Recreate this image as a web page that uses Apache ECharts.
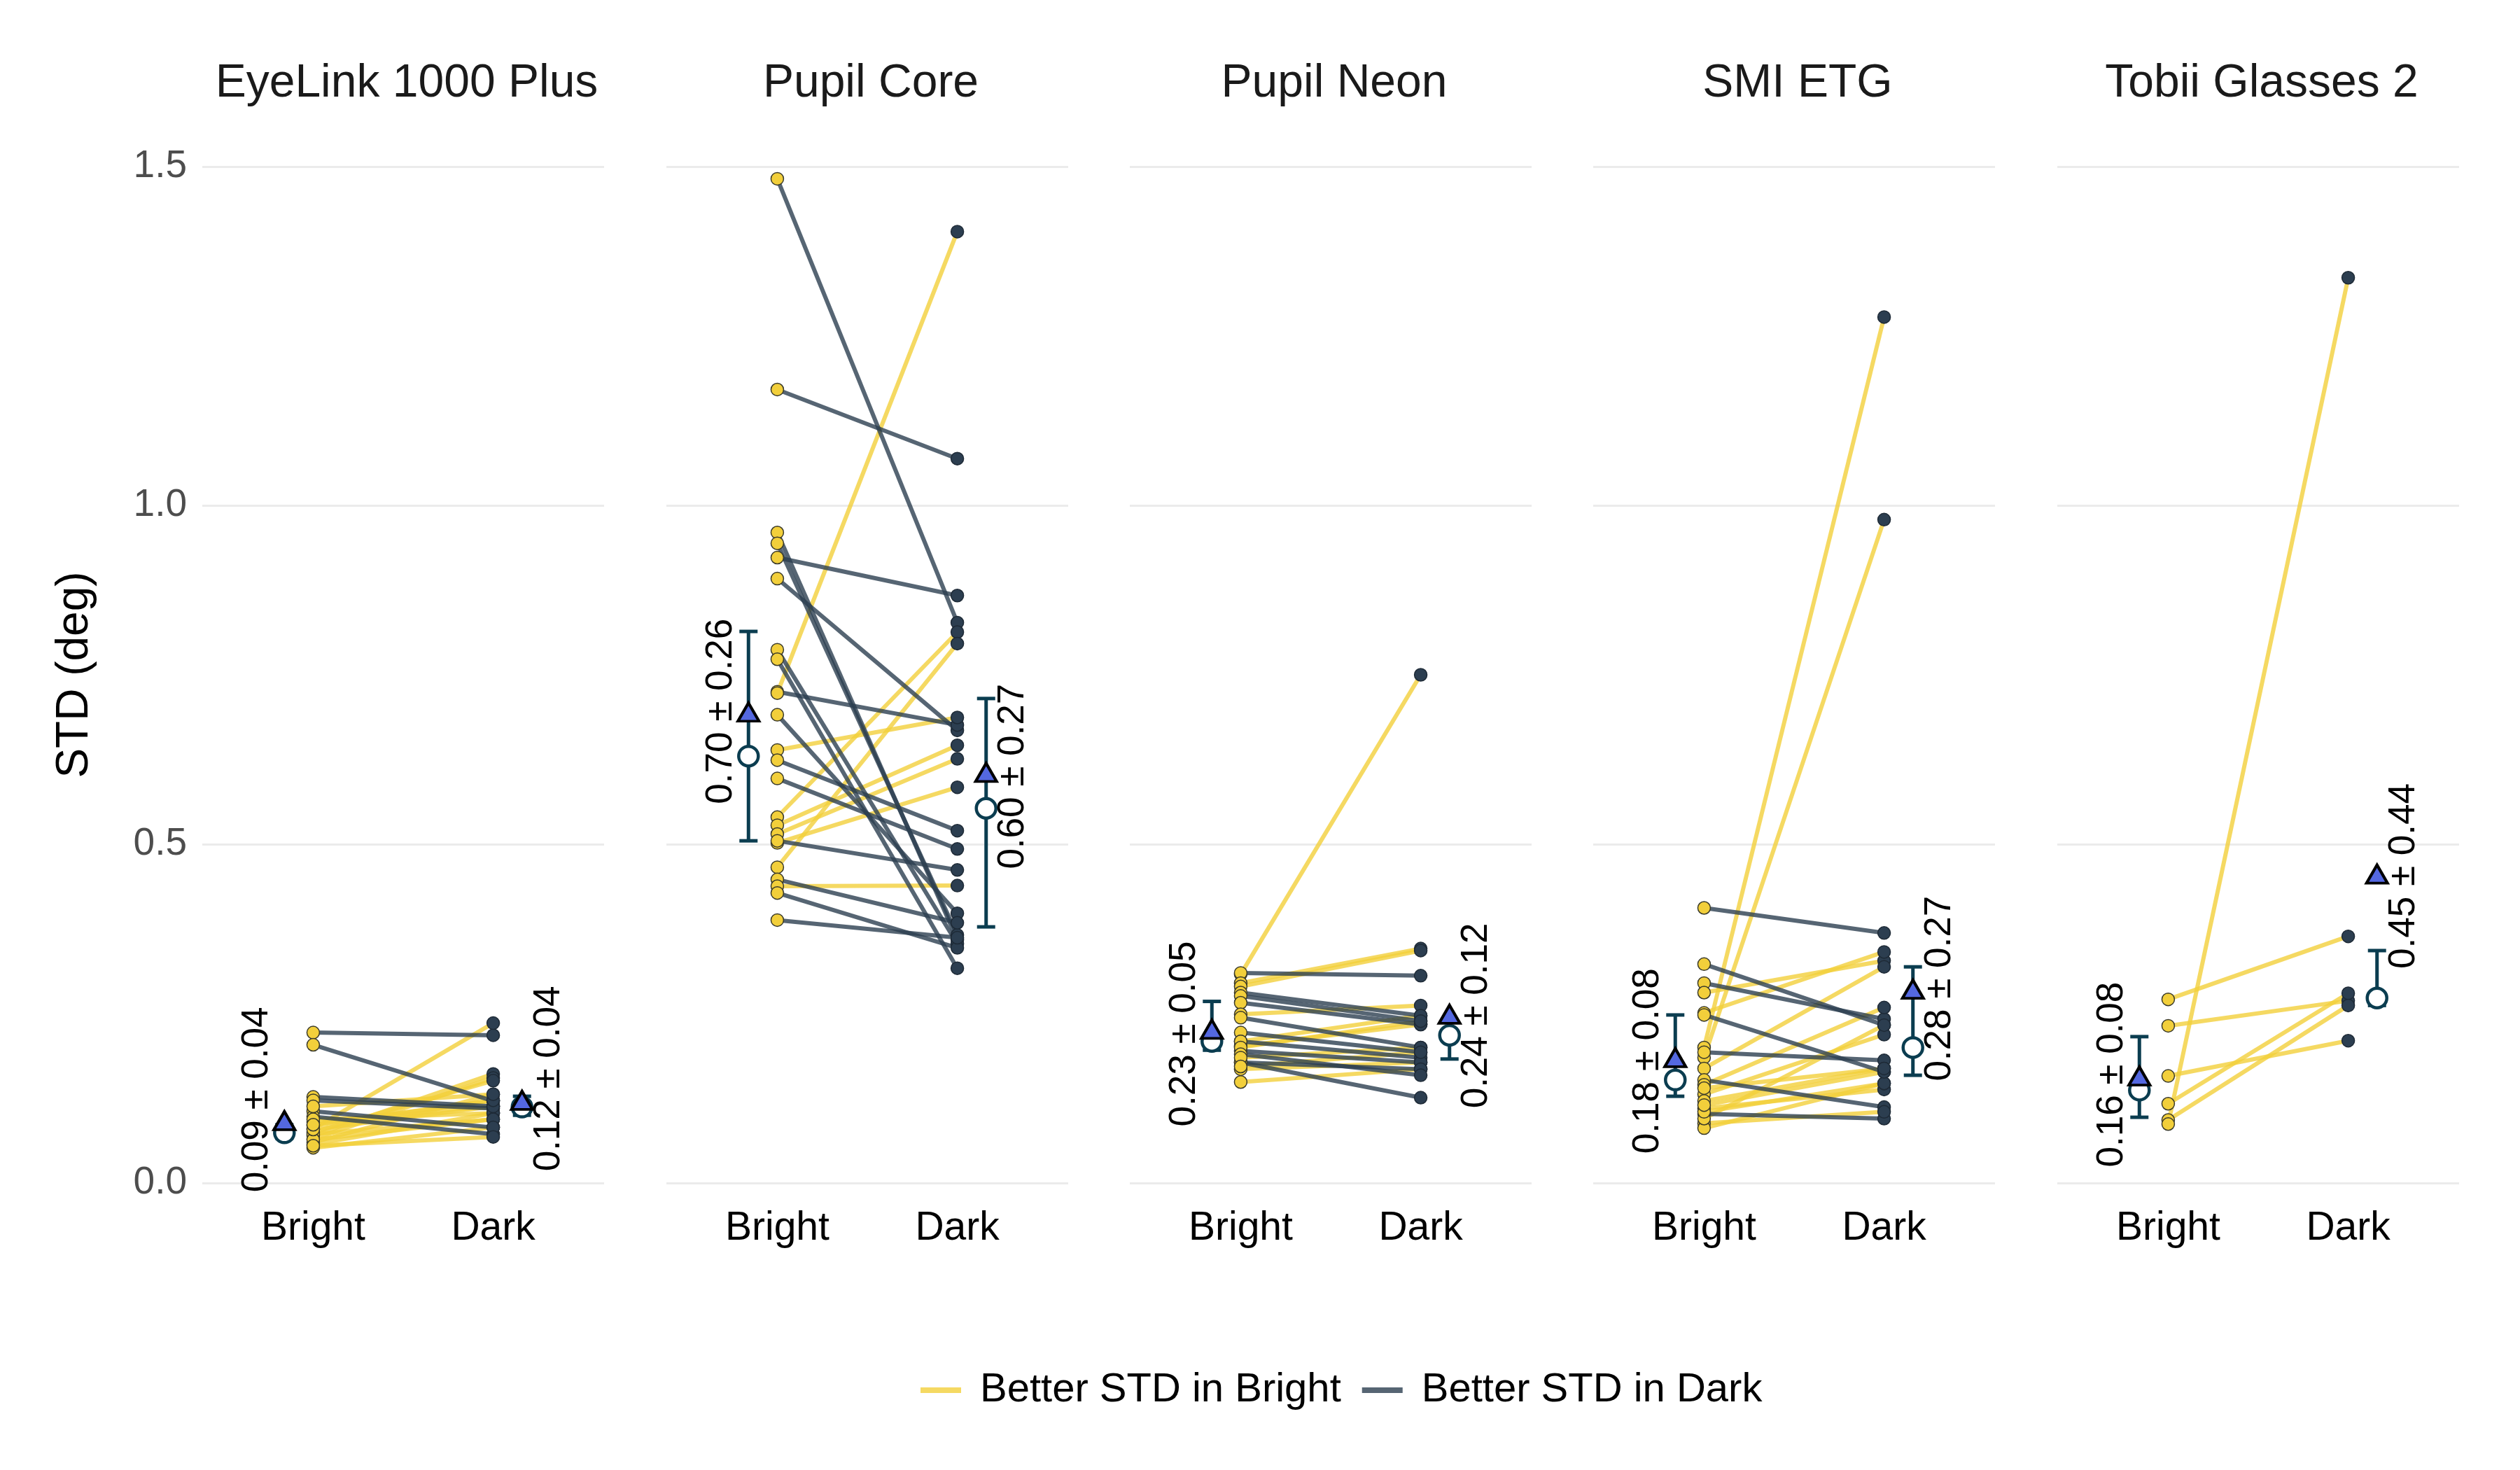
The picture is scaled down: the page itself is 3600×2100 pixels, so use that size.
<!DOCTYPE html>
<html>
<head>
<meta charset="utf-8">
<script src="https://cdn.jsdelivr.net/npm/echarts@6/dist/echarts.min.js"></script>
<style>
  html, body { margin: 0; padding: 0; background: #fff; }
  #chart { width: 3600px; height: 2100px; }
</style>
</head>
<body>
<div id="chart"></div>
<script>
// panels and conditions
var devices = ['EyeLink 1000 Plus', 'Pupil Core', 'Pupil Neon', 'SMI ETG', 'Tobii Glasses 2'];
var conditions = ['Bright', 'Dark'];
var seriesNames = ['Better STD in Bright', 'Better STD in Dark'];

// per participant STD (deg), same index = same participant
var eyelinkBright = [0.222, 0.204, 0.127, 0.122, 0.106, 0.098, 0.080, 0.070, 0.065, 0.075, 0.060,
                     0.085, 0.090, 0.057, 0.094, 0.072, 0.064, 0.052, 0.055, 0.079, 0.086, 0.113];
var eyelinkDark   = [0.218, 0.121, 0.113, 0.110, 0.082, 0.072, 0.236, 0.161, 0.155, 0.151, 0.131,
                     0.122, 0.113, 0.103, 0.103, 0.094, 0.094, 0.082, 0.068, 0.113, 0.122, 0.131];

var coreBright = [1.482, 1.171, 0.960, 0.944, 0.923, 0.892, 0.787, 0.773, 0.725, 0.723, 0.691, 0.639,
                  0.624, 0.597, 0.540, 0.528, 0.515, 0.502, 0.505, 0.466, 0.448, 0.438, 0.428, 0.388];
var coreDark   = [0.827, 1.069, 0.359, 0.366, 0.867, 0.668, 0.353, 0.317, 0.676, 1.404, 0.398, 0.687,
                  0.520, 0.493, 0.813, 0.646, 0.626, 0.584, 0.462, 0.796, 0.384, 0.439, 0.347, 0.362];

var neonBright = [0.308, 0.310, 0.295, 0.290, 0.281, 0.276, 0.266, 0.249, 0.244, 0.222, 0.209,
                  0.202, 0.209, 0.195, 0.200, 0.178, 0.168, 0.178, 0.149, 0.190, 0.185, 0.172];
var neonDark   = [0.750, 0.306, 0.346, 0.343, 0.247, 0.239, 0.234, 0.262, 0.200, 0.193, 0.247,
                  0.234, 0.185, 0.178, 0.239, 0.168, 0.178, 0.126, 0.168, 0.159, 0.200, 0.193];

var smiBright = [0.406, 0.323, 0.295, 0.281, 0.251, 0.248, 0.200, 0.185, 0.193, 0.169, 0.152,
                 0.145, 0.131, 0.121, 0.110, 0.102, 0.088, 0.081, 0.095, 0.105, 0.115, 0.140];
var smiDark   = [0.369, 0.233, 0.242, 0.328, 0.341, 0.164, 1.278, 0.979, 0.181, 0.319, 0.112,
                 0.259, 0.219, 0.169, 0.138, 0.095, 0.105, 0.147, 0.233, 0.147, 0.164, 0.169];

var tobiiBright = [0.271, 0.232, 0.158, 0.117, 0.093, 0.087];
var tobiiDark   = [0.364, 0.269, 0.210, 0.280, 0.262, 1.336];

var brightSets = [eyelinkBright, coreBright, neonBright, smiBright, tobiiBright];
var darkSets   = [eyelinkDark, coreDark, neonDark, smiDark, tobiiDark];

// summary markers
var meanBright   = [0.092, 0.695, 0.227, 0.185, 0.158];
var meanDark     = [0.122, 0.606, 0.249, 0.286, 0.456];
var medianBright = [0.074, 0.630, 0.209, 0.152, 0.137];
var medianDark   = [0.112, 0.553, 0.218, 0.200, 0.273];
var q1Bright = [0.066, 0.505, 0.196, 0.128, 0.097];
var q3Bright = [0.086, 0.814, 0.268, 0.248, 0.216];
var q1Dark   = [0.100, 0.378, 0.183, 0.159, 0.262];
var q3Dark   = [0.128, 0.715, 0.240, 0.319, 0.343];

// annotation text
var labelMeanBright = [0.09, 0.70, 0.23, 0.18, 0.16];
var labelSdBright   = [0.04, 0.26, 0.05, 0.08, 0.08];
var labelMeanDark   = [0.12, 0.60, 0.24, 0.28, 0.45];
var labelSdDark     = [0.04, 0.27, 0.12, 0.27, 0.44];
var labelYBright    = [0.123, 0.696, 0.220, 0.180, 0.160];
var labelYDark      = [0.154, 0.600, 0.247, 0.287, 0.453];

var FONT = 'Liberation Sans, Arial, Helvetica, sans-serif';
var YELLOW = '#f2cf3b';
var NAVY = '#2c3e50';
var TEAL = '#0b3d50';
var BLUE = '#5468e0';

var panelCenters = [576, 1239, 1901, 2563, 3226];
var panelWidth = 574;
var summaryOffset = 0.16;
var labelOffset = 0.31;

var myChart = echarts.init(document.getElementById('chart'));

var grids = [], xAxes = [], yAxes = [], titles = [], series = [];

function pairLines(name, color, idx, pairs) {
  return {
    name: name,
    type: 'custom',
    xAxisIndex: idx, yAxisIndex: idx,
    z: 2,
    itemStyle: { color: color },
    data: pairs,
    renderItem: function (params, api) {
      var p0 = api.coord([0, api.value(0)]);
      var p1 = api.coord([1, api.value(1)]);
      return {
        type: 'line',
        shape: { x1: p0[0], y1: p0[1], x2: p1[0], y2: p1[1] },
        style: { stroke: color, lineWidth: 6, opacity: 0.8 }
      };
    }
  };
}

for (var i = 0; i < devices.length; i++) {
  grids.push({
    left: panelCenters[i] - panelWidth / 2, top: 238, width: panelWidth, height: 1452,
    outerBoundsMode: 'none'
  });
  titles.push({
    text: devices[i], left: panelCenters[i], top: 82, textAlign: 'center',
    textStyle: { fontFamily: FONT, fontSize: 66, fontWeight: 'normal', color: '#1a1a1a' }
  });
  xAxes.push({
    gridIndex: i, type: 'value', min: -0.616, max: 1.616,
    axisLine: { show: false }, axisTick: { show: false }, splitLine: { show: false },
    axisLabel: {
      customValues: [0, 1],
      formatter: function (v) { return conditions[Math.round(v)]; },
      fontFamily: FONT, fontSize: 57, color: '#000', margin: 37
    }
  });
  yAxes.push({
    gridIndex: i, type: 'value', min: 0, max: 1.5, interval: 0.5,
    axisLine: { show: false }, axisTick: { show: false },
    splitLine: { lineStyle: { color: '#ebebeb', width: 3 } },
    axisLabel: {
      show: i === 0, margin: 22, fontFamily: FONT, fontSize: 55, color: '#4d4d4d',
      formatter: function (v) { return v.toFixed(1); }
    },
    name: i === 0 ? 'STD (deg)' : '',
    nameLocation: 'middle', nameGap: 150,
    nameTextStyle: { fontFamily: FONT, fontSize: 64, color: '#000' }
  });

  var b = brightSets[i], d = darkSets[i];
  var brightBetter = [], darkBetter = [];
  for (var k = 0; k < b.length; k++) {
    if (d[k] < b[k]) darkBetter.push([b[k], d[k]]);
    else brightBetter.push([b[k], d[k]]);
  }
  series.push(pairLines(seriesNames[0], YELLOW, i, brightBetter));
  series.push(pairLines(seriesNames[1], NAVY, i, darkBetter));

  series.push({
    type: 'scatter', xAxisIndex: i, yAxisIndex: i, z: 3, silent: true,
    symbol: 'circle', symbolSize: 18,
    itemStyle: { color: YELLOW, borderColor: '#3a3a2a', borderWidth: 1.5, opacity: 1 },
    data: b.map(function (v) { return [0, v]; })
  });
  series.push({
    type: 'scatter', xAxisIndex: i, yAxisIndex: i, z: 3, silent: true,
    symbol: 'circle', symbolSize: 18,
    itemStyle: { color: NAVY, borderColor: '#1e2a36', borderWidth: 1.5, opacity: 1 },
    data: d.map(function (v) { return [1, v]; })
  });

  // IQR bars
  series.push({
    type: 'custom', xAxisIndex: i, yAxisIndex: i, z: 4, silent: true,
    data: [[-summaryOffset, q1Bright[i], q3Bright[i]], [1 + summaryOffset, q1Dark[i], q3Dark[i]]],
    renderItem: function (params, api) {
      var x = api.value(0);
      var lo = api.coord([x, api.value(1)]);
      var hi = api.coord([x, api.value(2)]);
      var cap = 13;
      var st = { stroke: TEAL, lineWidth: 5 };
      return {
        type: 'group',
        children: [
          { type: 'line', shape: { x1: lo[0], y1: lo[1], x2: hi[0], y2: hi[1] }, style: st },
          { type: 'line', shape: { x1: lo[0] - cap, y1: lo[1], x2: lo[0] + cap, y2: lo[1] }, style: st },
          { type: 'line', shape: { x1: hi[0] - cap, y1: hi[1], x2: hi[0] + cap, y2: hi[1] }, style: st }
        ]
      };
    }
  });
  // medians
  series.push({
    type: 'scatter', xAxisIndex: i, yAxisIndex: i, z: 5, silent: true,
    symbol: 'circle', symbolSize: 28,
    itemStyle: { color: '#fff', borderColor: TEAL, borderWidth: 4.5, opacity: 1 },
    data: [[-summaryOffset, medianBright[i]], [1 + summaryOffset, medianDark[i]]]
  });
  // means
  series.push({
    type: 'scatter', xAxisIndex: i, yAxisIndex: i, z: 6, silent: true,
    symbol: 'triangle', symbolSize: [30, 26],
    itemStyle: { color: BLUE, borderColor: '#000', borderWidth: 4, opacity: 1 },
    data: [[-summaryOffset, meanBright[i]], [1 + summaryOffset, meanDark[i]]]
  });
  // mean ± sd text
  series.push({
    type: 'custom', xAxisIndex: i, yAxisIndex: i, z: 7, silent: true,
    data: [
      [-labelOffset, labelYBright[i], labelMeanBright[i].toFixed(2) + ' \u00b1 ' + labelSdBright[i].toFixed(2)],
      [1 + labelOffset, labelYDark[i], labelMeanDark[i].toFixed(2) + ' \u00b1 ' + labelSdDark[i].toFixed(2)]
    ],
    renderItem: function (params, api) {
      var p = api.coord([api.value(0), api.value(1)]);
      return {
        type: 'text', x: p[0], y: p[1], rotation: Math.PI / 2,
        style: {
          text: api.value(2), fontFamily: FONT, fontSize: 53, fill: '#000',
          align: 'center', verticalAlign: 'middle'
        }
      };
    }
  });
}

myChart.setOption({
  backgroundColor: '#fff',
  animation: false,
  title: titles,
  grid: grids,
  xAxis: xAxes,
  yAxis: yAxes,
  legend: {
    top: 1952, left: 1310, itemGap: 30, itemWidth: 58, itemHeight: 8,
    selectedMode: false,
    textStyle: { fontFamily: FONT, fontSize: 58, color: '#000', padding: [0, 0, 0, 22] },
    data: [
      { name: seriesNames[0], icon: 'rect', itemStyle: { color: YELLOW, opacity: 0.8 } },
      { name: seriesNames[1], icon: 'rect', itemStyle: { color: NAVY, opacity: 0.8 } }
    ]
  },
  series: series
});
</script>
</body>
</html>
